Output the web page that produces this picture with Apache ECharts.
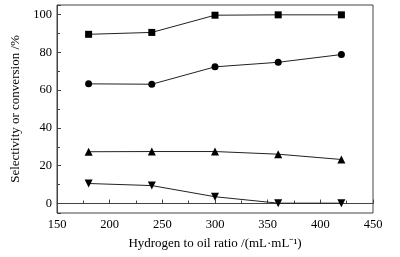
<!DOCTYPE html>
<html><head><meta charset="utf-8">
<script src="https://cdn.jsdelivr.net/npm/echarts@6/dist/echarts.min.js"></script>
<style>html,body{margin:0;padding:0;background:#fff}#c{width:400px;height:257px}</style>
</head><body><div id="c"></div>
<script>
const ratios = [180, 240, 300, 360, 420];
const squareSeries = [89.5, 90.5, 99.6, 99.8, 99.8];
const circleSeries = [63.3, 63.1, 72.3, 74.7, 78.8];
const triUpSeries = [27.4, 27.5, 27.5, 26.1, 23.3];
const triDownSeries = [10.6, 9.5, 3.6, 0.2, 0.2];
const xLabelName = 'Hydrogen to oil ratio /(mL·mL⁻¹)';
const yLabelName = 'Selectivity or conversion /%';

const font = 'Liberation Serif';
function pairs(ys){ return ratios.map((x,i)=>[x, ys[i]]); }
function mk(data, symbol, size, rot){
  return {type:'line', data:pairs(data), symbol:symbol, symbolSize:size, symbolRotate:rot||0,
    lineStyle:{color:'#222', width:1}, itemStyle:{color:'#000'}, animation:false};
}
const chart = echarts.init(document.getElementById('c'), null, {renderer:'canvas'});
chart.setOption({
  backgroundColor:'#fff',
  animation:false,
  grid:{left:57, right:27, top:5, bottom:44, show:true, borderColor:'#444', borderWidth:1, containLabel:false},
  xAxis:{type:'value', min:150, max:450, interval:50,
    name:xLabelName, nameLocation:'middle', nameGap:24,
    nameTextStyle:{fontFamily:font, fontSize:13, color:'#000'},
    axisLine:{lineStyle:{color:'#444', width:1}},
    axisTick:{inside:true, length:4, lineStyle:{color:'#444'}},
    minorTick:{show:true, splitNumber:2, length:3, lineStyle:{color:'#444'}},
    axisLabel:{fontFamily:font, fontSize:12.5, color:'#000', margin:5},
    splitLine:{show:false}},
  yAxis:{type:'value', min:-5, max:105, splitNumber:5,
    name:yLabelName, nameLocation:'middle', nameGap:31,
    nameTextStyle:{fontFamily:font, fontSize:13, color:'#000'},
    axisLine:{show:true, lineStyle:{color:'#444', width:1}},
    axisTick:{inside:true, length:4, lineStyle:{color:'#444'}},
    minorTick:{show:true, splitNumber:2, length:3, lineStyle:{color:'#444'}},
    axisLabel:{fontFamily:font, fontSize:12.5, color:'#000', margin:5, showMinLabel:false, showMaxLabel:false},
    splitLine:{show:false}},
  series:[
    mk(squareSeries,'rect',7),
    mk(circleSeries,'circle',7),
    mk(triUpSeries,'triangle',8),
    mk(triDownSeries,'triangle',8,180)
  ]
});
</script></body></html>
